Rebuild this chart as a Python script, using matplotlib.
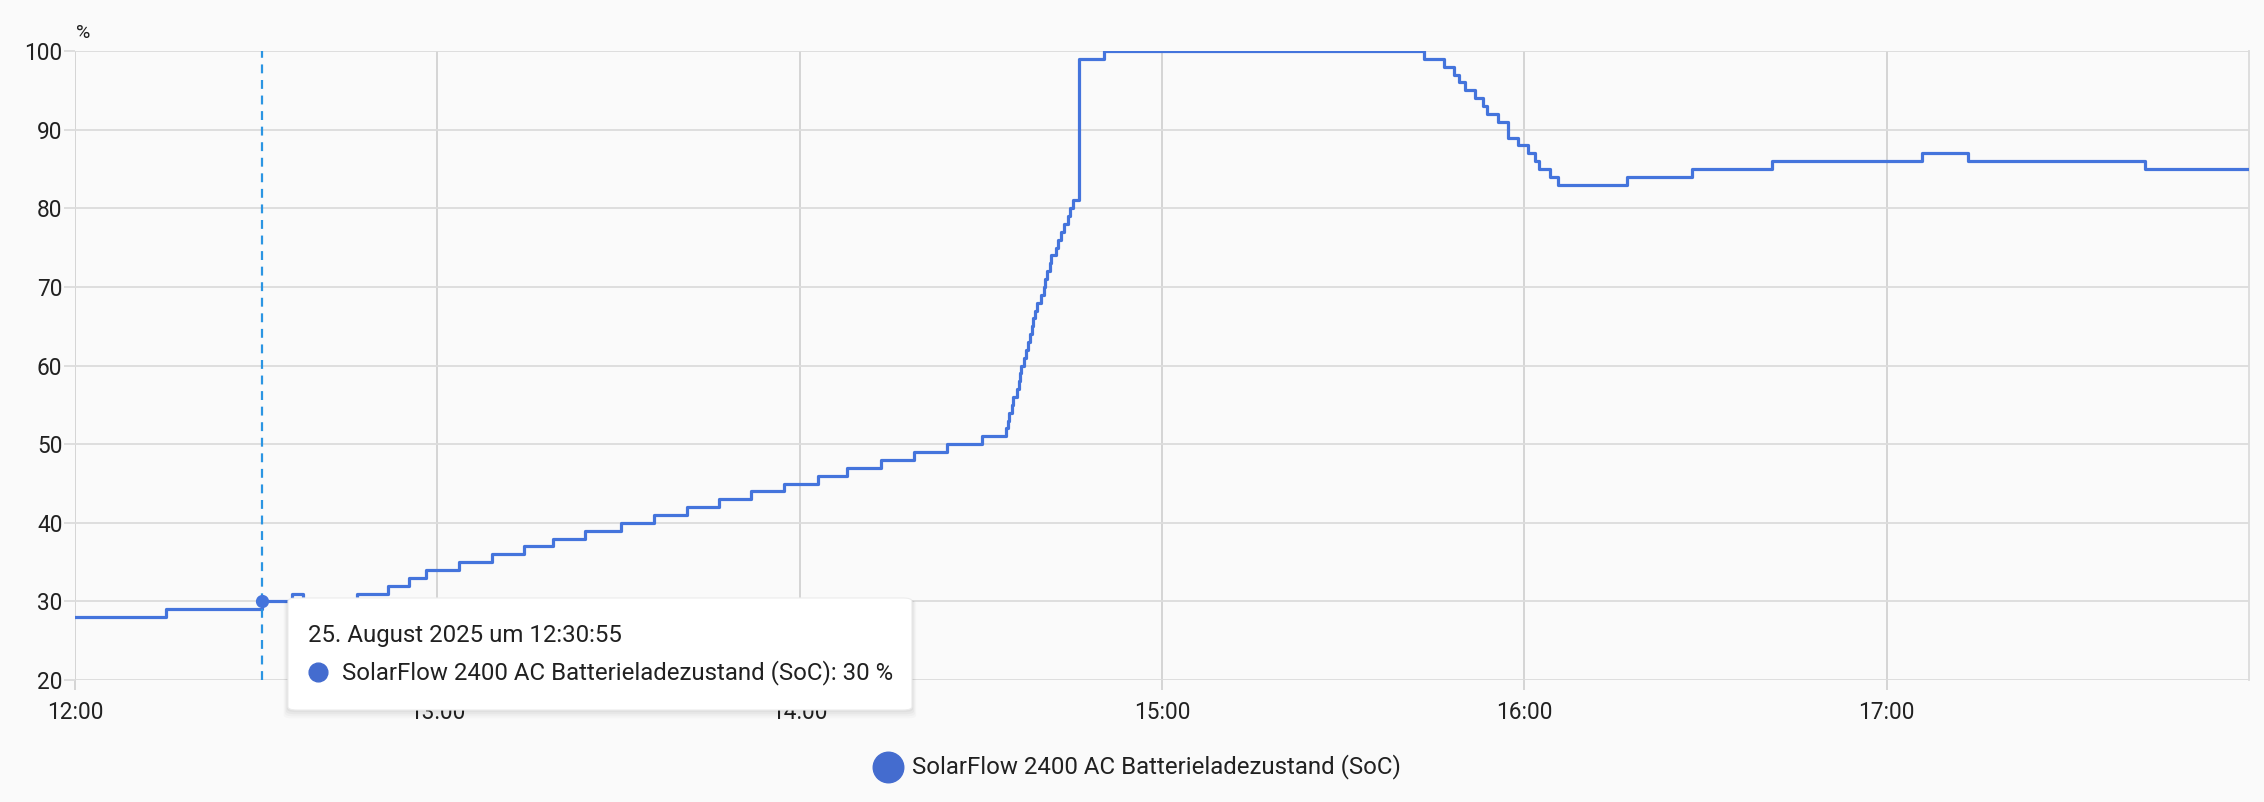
import pandas as pd
import matplotlib
matplotlib.use("Agg")
import matplotlib.pyplot as plt
import matplotlib.dates as mdates
from matplotlib.patches import FancyBboxPatch
from matplotlib.lines import Line2D

plt.rcParams['font.family'] = ['Roboto', 'DejaVu Sans']

# state of charge readings (time of change, new value in %)
day = "2025-08-25"
times = [
    "12:00:00", "12:15:00", "12:30:55", "12:36:00", "12:37:50", "12:46:40",
    "12:51:50", "12:55:15", "12:58:05", "13:03:40", "13:09:05", "13:14:20",
    "13:19:05", "13:24:30", "13:30:25", "13:35:50", "13:41:20", "13:46:35",
    "13:52:00", "13:57:20", "14:03:05", "14:07:55", "14:13:30", "14:18:55",
    "14:24:20", "14:30:15", "14:34:10", "14:34:27", "14:34:41", "14:35:06",
    "14:35:24", "14:35:56", "14:36:22", "14:36:32", "14:36:43", "14:37:12",
    "14:37:30", "14:37:52", "14:38:10", "14:38:24", "14:38:38", "14:38:56",
    "14:39:18", "14:39:58", "14:40:23", "14:40:37", "14:40:55", "14:41:24",
    "14:41:42", "14:42:25", "14:42:47", "14:43:16", "14:43:48", "14:44:28",
    "14:44:49", "14:45:14", "14:46:19", "14:50:20", "15:43:19", "15:46:38",
    "15:48:20", "15:49:07", "15:50:06", "15:51:46", "15:53:10", "15:53:52",
    "15:55:39", "15:57:18", "15:58:57", "16:00:37", "16:01:43", "16:02:22",
    "16:04:11", "16:05:35", "16:17:01", "16:27:50", "16:41:02", "17:05:48",
    "17:13:32", "17:42:43", "18:00:00",
]
soc = [
    28, 29, 30, 31, 30, 31,
    32, 33, 34, 35, 36, 37,
    38, 39, 40, 41, 42, 43,
    44, 45, 46, 47, 48, 49,
    50, 51, 52, 53, 54, 55,
    56, 57, 58, 59, 60, 61,
    62, 63, 64, 65, 66, 67,
    68, 69, 70, 71, 72, 73,
    74, 75, 76, 77, 78, 79,
    80, 81, 99, 100, 99, 98,
    97, 96, 95, 94, 93, 92,
    91, 89, 88, 87, 86, 85,
    84, 83, 84, 85, 86, 87,
    86, 85, 85,
]
series_name = "SolarFlow 2400 AC Batterieladezustand (SoC)"
hover_time = "12:30:55"
hover_value = 30
x_ticks = ["12:00", "13:00", "14:00", "15:00", "16:00", "17:00"]
y_ticks = [20, 30, 40, 50, 60, 70, 80, 90, 100]

t = pd.to_datetime([day + " " + s for s in times])
hover_t = pd.Timestamp(day + " " + hover_time)

line_color = "#4474dc"
bg = "#fafafa"
txt = "#212121"

fig = plt.figure(figsize=(22.64, 8.02), dpi=100, facecolor=bg)
ax = fig.add_axes([0.0331, 0.152, 0.9603, 0.7844], facecolor=bg)

ax.step(t, soc, where="post", color=line_color, lw=2.3, zorder=3)

ax.set_xlim(pd.Timestamp(day + " 12:00"), pd.Timestamp(day + " 18:00"))
ax.set_ylim(20, 100)
ax.set_yticks(y_ticks)
ax.set_xticks(pd.to_datetime([day + " " + s for s in x_ticks]))
ax.xaxis.set_major_formatter(mdates.DateFormatter("%H:%M"))

ax.grid(axis="y", color="#dcdcdc", lw=1.3, zorder=0)
ax.grid(axis="x", color="#d2d2d2", lw=1.3, zorder=0)
for s in ["top", "bottom", "left"]:
    ax.spines[s].set_visible(False)
ax.spines["right"].set_color("#dcdcdc")
ax.spines["right"].set_linewidth(1.3)

ax.tick_params(axis="y", length=8, width=1.3, color="#dcdcdc", pad=1,
               labelsize=16.3, labelcolor=txt)
ax.tick_params(axis="x", length=7, width=1.3, color="#d2d2d2", pad=8,
               labelsize=16.3, labelcolor=txt)

fig.text(0.0367, 0.959, "%", fontsize=14, color=txt, ha="center", va="center")

# hover crosshair and point
ax.axvline(hover_t, color="#2b95e2", lw=1.6, ls=(0, (4, 3)), zorder=4)
ax.plot([hover_t], [hover_value], "o", color=line_color, ms=8.5, zorder=5)

# tooltip box with soft shadow
bx, by, bw, bh = 0.1272, 0.1147, 0.2756, 0.1397
for i, a in enumerate([0.03, 0.03, 0.025, 0.02]):
    d = 0.0012 * (i + 1)
    sh = FancyBboxPatch((bx - d * 0.4, by - d * 2.2), bw + d * 0.8, bh + d * 1.6,
                        boxstyle="round,pad=0,rounding_size=0.004",
                        transform=fig.transFigure, facecolor="black", alpha=a,
                        edgecolor="none", zorder=9)
    fig.add_artist(sh)
box = FancyBboxPatch((bx, by), bw, bh, boxstyle="round,pad=0,rounding_size=0.004",
                     transform=fig.transFigure, facecolor="white",
                     edgecolor="#ececec", lw=0.8, zorder=10)
fig.add_artist(box)
fig.text(0.136, 0.207, "25. August 2025 um " + hover_time, fontsize=17.3,
         color=txt, ha="left", va="center", zorder=11)
fig.add_artist(Line2D([0.1405], [0.162], marker="o", ms=13.5, color="#446ccf",
                      transform=fig.transFigure, zorder=11))
fig.text(0.151, 0.162, series_name + ": " + str(hover_value) + " %", fontsize=17.3,
         color=txt, ha="left", va="center", zorder=11)

# legend
fig.add_artist(Line2D([0.3922], [0.0436], marker="o", ms=22, color="#446ccf",
                      transform=fig.transFigure))
fig.text(0.4027, 0.0436, series_name, fontsize=17.3, color=txt,
         ha="left", va="center")

fig.savefig("out.png", dpi=100, facecolor=bg)
